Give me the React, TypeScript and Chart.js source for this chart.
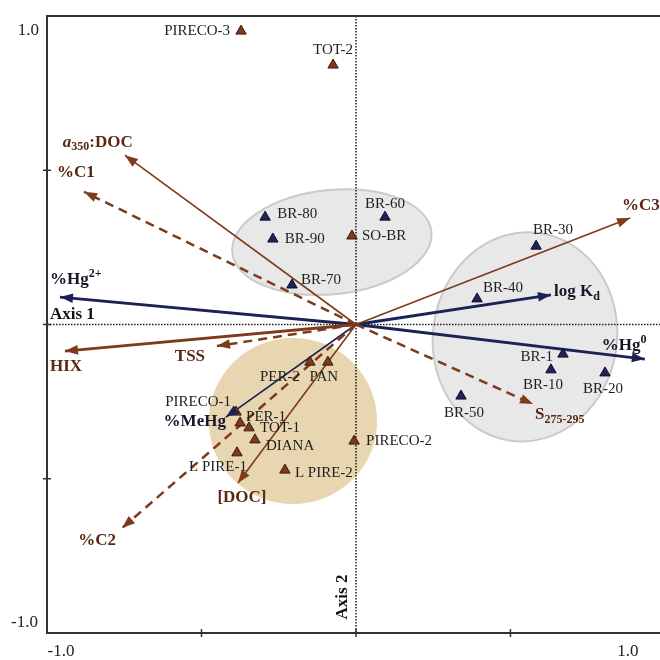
import React, { useEffect, useRef } from "react";
import { Chart, registerables } from "chart.js";

Chart.register(...registerables);

// ---------- data ----------
const siteNames = ["PIRECO-3", "TOT-2", "SO-BR", "PER-2", "PAN", "PIRECO-1", "PER-1", "TOT-1", "DIANA", "L PIRE-1", "L PIRE-2", "PIRECO-2"];
const siteAxis1 = [-0.372, -0.074, -0.013, -0.149, -0.091, -0.388, -0.375, -0.346, -0.327, -0.385, -0.23, -0.006];
const siteAxis2 = [0.951, 0.841, 0.287, -0.122, -0.122, -0.284, -0.319, -0.335, -0.374, -0.416, -0.472, -0.378];

const brNames = ["BR-80", "BR-90", "BR-70", "BR-60", "BR-30", "BR-40", "BR-1", "BR-10", "BR-20", "BR-50"];
const brAxis1 = [-0.294, -0.269, -0.207, 0.094, 0.583, 0.392, 0.67, 0.631, 0.806, 0.34];
const brAxis2 = [0.348, 0.277, 0.128, 0.348, 0.254, 0.083, -0.096, -0.147, -0.157, -0.232];

const varNames = ["a350:DOC", "%C1", "%C3", "HIX", "[DOC]", "TSS", "%C2", "S275-295", "%Hg2+", "log Kd", "%Hg0", "%MeHg"];
const varAxis1 = [-0.748, -0.88, 0.887, -0.942, -0.382, -0.45, -0.757, 0.573, -0.958, 0.631, 0.935, -0.421];
const varAxis2 = [0.549, 0.43, 0.345, -0.086, -0.514, -0.07, -0.66, -0.258, 0.089, 0.096, -0.112, -0.3];

const groupNames = ["BR upper", "BR lower", "Sites"];
const groupCenterAxis1 = [-0.078, 0.547, -0.204];
const groupCenterAxis2 = [0.267, -0.04, -0.313];
const groupRadiusAxis1 = [0.324, 0.298, 0.269];
const groupRadiusAxis2 = [0.169, 0.34, 0.266];

const tickValues = [-1, -0.5, 0, 0.5, 1];
const tickLabels = ["-1.0", "", "", "", "1.0"];

// ---------- styles ----------
const SERIF = '"Liberation Serif", "Times New Roman", serif';
const BROWN = "#7d3b1b";
const BROWN_TEXT = "#5b2812";
const NAVY = "#1c2157";
const NAVY_TEXT = "#15152a";

const siteLabelPos = [
  { dx: -11, dy: 0, align: "right" },
  { dx: 0, dy: -15, align: "center" },
  { dx: 10, dy: 0, align: "left" },
  { dx: -10, dy: 15, align: "right" },
  { dx: -4, dy: 15, align: "center" },
  { dx: -5, dy: -10, align: "right" },
  { dx: 6, dy: -6, align: "left" },
  { dx: 11, dy: 0, align: "left" },
  { dx: 11, dy: 6, align: "left" },
  { dx: -19, dy: 14, align: "center" },
  { dx: 10, dy: 3, align: "left" },
  { dx: 12, dy: 0, align: "left" },
];
const brLabelPos = [
  { dx: 12, dy: -3, align: "left" },
  { dx: 12, dy: 0, align: "left" },
  { dx: 9, dy: -5, align: "left" },
  { dx: 0, dy: -13, align: "center" },
  { dx: 17, dy: -16, align: "center" },
  { dx: 6, dy: -11, align: "left" },
  { dx: -10, dy: 3, align: "right" },
  { dx: -8, dy: 15, align: "center" },
  { dx: -2, dy: 16, align: "center" },
  { dx: 3, dy: 17, align: "center" },
];

type Run = { t: string; sub?: boolean; sup?: boolean; it?: boolean };
const varRuns: Run[][] = [
  [{ t: "a", it: true }, { t: "350", sub: true }, { t: ":DOC" }],
  [{ t: "%C1" }],
  [{ t: "%C3" }],
  [{ t: "HIX" }],
  [{ t: "[DOC]" }],
  [{ t: "TSS" }],
  [{ t: "%C2" }],
  [{ t: "S" }, { t: "275-295", sub: true }],
  [{ t: "%Hg" }, { t: "2+", sup: true }],
  [{ t: "log K" }, { t: "d", sub: true }],
  [{ t: "%Hg" }, { t: "0", sup: true }],
  [{ t: "%MeHg" }],
];
const varStyle = [
  { color: BROWN, text: BROWN_TEXT, width: 1.6, dash: [], dx: -62, dy: -13, align: "left" },
  { color: BROWN, text: BROWN_TEXT, width: 2.5, dash: [9, 6], dx: -27, dy: -19, align: "left" },
  { color: BROWN, text: BROWN_TEXT, width: 1.6, dash: [], dx: -8, dy: -12, align: "left" },
  { color: BROWN, text: BROWN_TEXT, width: 2.8, dash: [], dx: -15, dy: 16, align: "left" },
  { color: BROWN, text: BROWN_TEXT, width: 1.6, dash: [], dx: 4, dy: 15, align: "center" },
  { color: BROWN, text: BROWN_TEXT, width: 2.5, dash: [9, 6], dx: -27, dy: 11, align: "center" },
  { color: BROWN, text: BROWN_TEXT, width: 2.5, dash: [9, 6], dx: -25, dy: 12, align: "center" },
  { color: BROWN, text: BROWN_TEXT, width: 2.5, dash: [9, 6], dx: 2, dy: 11, align: "left" },
  { color: NAVY, text: NAVY_TEXT, width: 2.8, dash: [], dx: -10, dy: -17, align: "left" },
  { color: NAVY, text: NAVY_TEXT, width: 2.8, dash: [], dx: 3, dy: -3, align: "left" },
  { color: NAVY, text: NAVY_TEXT, width: 2.8, dash: [], dx: -43, dy: -13, align: "left" },
  { color: NAVY, text: NAVY_TEXT, width: 1.6, dash: [], dx: 0, dy: 5, align: "right" },
];
const groupStyle = [
  { fill: "#e8e8e8", stroke: "#cacaca", angle: -6 },
  { fill: "#e8e8e8", stroke: "#cacaca", angle: 8 },
  { fill: "#e8d6b0", stroke: "#e8d6b0", angle: 0 },
];

function runFont(r: Run, size: number) {
  const s = r.sub || r.sup ? Math.round(size * 0.7) : size;
  return `${r.it ? "italic " : ""}bold ${s}px ${SERIF}`;
}

function drawRuns(ctx: CanvasRenderingContext2D, runs: Run[], x: number, y: number, align: string, size: number, color: string) {
  let total = 0;
  for (const r of runs) {
    ctx.font = runFont(r, size);
    total += ctx.measureText(r.t).width;
  }
  let cx = align === "left" ? x : align === "right" ? x - total : x - total / 2;
  ctx.fillStyle = color;
  ctx.textAlign = "left";
  ctx.textBaseline = "middle";
  for (const r of runs) {
    ctx.font = runFont(r, size);
    const off = r.sub ? size * 0.3 : r.sup ? -size * 0.35 : 0;
    ctx.fillText(r.t, cx, y + off);
    cx += ctx.measureText(r.t).width;
  }
}

const biplotPlugin = {
  id: "biplot",
  beforeDatasetsDraw(chart: any) {
    const { ctx, chartArea: a, scales } = chart;
    const xs = scales.x, ys = scales.y;
    ctx.save();
    // group ellipses
    for (let i = 0; i < groupNames.length; i++) {
      const cx = xs.getPixelForValue(groupCenterAxis1[i]);
      const cy = ys.getPixelForValue(groupCenterAxis2[i]);
      const rx = Math.abs(xs.getPixelForValue(groupCenterAxis1[i] + groupRadiusAxis1[i]) - cx);
      const ry = Math.abs(ys.getPixelForValue(groupCenterAxis2[i] + groupRadiusAxis2[i]) - cy);
      ctx.beginPath();
      ctx.ellipse(cx, cy, rx, ry, (groupStyle[i].angle * Math.PI) / 180, 0, Math.PI * 2);
      ctx.fillStyle = groupStyle[i].fill;
      ctx.fill();
      ctx.lineWidth = 2;
      ctx.strokeStyle = groupStyle[i].stroke;
      ctx.stroke();
    }
    // dotted zero lines
    const x0 = xs.getPixelForValue(0), y0 = ys.getPixelForValue(0);
    ctx.strokeStyle = "#1a1a1a";
    ctx.lineWidth = 1.5;
    ctx.setLineDash([1.5, 1.5]);
    ctx.beginPath();
    ctx.moveTo(x0, a.top);
    ctx.lineTo(x0, a.bottom);
    ctx.moveTo(a.left, y0);
    ctx.lineTo(a.right, y0);
    ctx.stroke();
    ctx.setLineDash([]);
    // frame
    ctx.strokeStyle = "#333";
    ctx.lineWidth = 2;
    ctx.beginPath();
    ctx.moveTo(a.right, a.top);
    ctx.lineTo(a.left, a.top);
    ctx.lineTo(a.left, a.bottom);
    ctx.lineTo(a.right, a.bottom);
    ctx.stroke();
    // ticks
    ctx.lineWidth = 1.5;
    ctx.beginPath();
    for (const v of tickValues) {
      if (v === -1 || v === 1) continue;
      const px = xs.getPixelForValue(v);
      ctx.moveTo(px, a.bottom - 4);
      ctx.lineTo(px, a.bottom + 4);
      const py = ys.getPixelForValue(v);
      ctx.moveTo(a.left - 4, py);
      ctx.lineTo(a.left + 4, py);
    }
    ctx.stroke();
    // tick labels
    ctx.font = `17px ${SERIF}`;
    ctx.fillStyle = "#222";
    ctx.textBaseline = "middle";
    ctx.textAlign = "center";
    ctx.fillText(tickLabels[0], xs.getPixelForValue(tickValues[0]) + 14, a.bottom + 19);
    ctx.fillText(tickLabels[4], xs.getPixelForValue(tickValues[4]) - 37, a.bottom + 19);
    ctx.textAlign = "right";
    ctx.fillText(tickLabels[4], a.left - 8, ys.getPixelForValue(tickValues[4]) + 15);
    ctx.fillText(tickLabels[0], a.left - 9, ys.getPixelForValue(tickValues[0]) - 10);
    // axis names
    ctx.font = `bold 17px ${SERIF}`;
    ctx.fillStyle = "#111";
    ctx.textAlign = "left";
    ctx.fillText("Axis 1", a.left + 3, y0 - 10);
    ctx.save();
    ctx.translate(x0 - 13, a.bottom - 36);
    ctx.rotate(-Math.PI / 2);
    ctx.textAlign = "center";
    ctx.fillText("Axis 2", 0, 0);
    ctx.restore();
    ctx.restore();
  },
  afterDatasetsDraw(chart: any) {
    const { ctx, scales } = chart;
    const xs = scales.x, ys = scales.y;
    const x0 = xs.getPixelForValue(0), y0 = ys.getPixelForValue(0);
    ctx.save();
    // arrowheads + variable labels
    for (let i = 0; i < varNames.length; i++) {
      const tx = xs.getPixelForValue(varAxis1[i]);
      const ty = ys.getPixelForValue(varAxis2[i]);
      const ang = Math.atan2(ty - y0, tx - x0);
      const L = 13, W = 4.8;
      ctx.beginPath();
      ctx.moveTo(tx, ty);
      ctx.lineTo(tx - L * Math.cos(ang) + W * Math.sin(ang), ty - L * Math.sin(ang) - W * Math.cos(ang));
      ctx.lineTo(tx - L * Math.cos(ang) - W * Math.sin(ang), ty - L * Math.sin(ang) + W * Math.cos(ang));
      ctx.closePath();
      ctx.fillStyle = varStyle[i].color;
      ctx.fill();
      const st = varStyle[i];
      drawRuns(ctx, varRuns[i], tx + st.dx, ty + st.dy, st.align, 17, st.text);
    }
    // point labels
    ctx.font = `15px ${SERIF}`;
    ctx.fillStyle = "#1e1e1e";
    ctx.textBaseline = "middle";
    for (let i = 0; i < siteNames.length; i++) {
      const p = siteLabelPos[i];
      ctx.textAlign = p.align as CanvasTextAlign;
      ctx.fillText(siteNames[i], xs.getPixelForValue(siteAxis1[i]) + p.dx, ys.getPixelForValue(siteAxis2[i]) + p.dy);
    }
    for (let i = 0; i < brNames.length; i++) {
      const p = brLabelPos[i];
      ctx.textAlign = p.align as CanvasTextAlign;
      ctx.fillText(brNames[i], xs.getPixelForValue(brAxis1[i]) + p.dx, ys.getPixelForValue(brAxis2[i]) + p.dy);
    }
    ctx.restore();
  },
};

export default function App() {
  const ref = useRef<HTMLCanvasElement>(null);
  useEffect(() => {
    if (!ref.current) return;
    const arrowSets = varNames.map((n, i) => ({
      label: n,
      data: [{ x: 0, y: 0 }, { x: varAxis1[i], y: varAxis2[i] }],
      showLine: true,
      borderColor: varStyle[i].color,
      borderWidth: varStyle[i].width,
      borderDash: varStyle[i].dash,
      pointRadius: 0,
      fill: false,
    }));
    const chart = new Chart(ref.current, {
      type: "scatter",
      data: {
        datasets: [
          {
            label: "Sites",
            data: siteNames.map((_, i) => ({ x: siteAxis1[i], y: siteAxis2[i] })),
            pointStyle: "triangle",
            pointRadius: 6,
            backgroundColor: "#7e3a1a",
            borderColor: "#3d1a0a",
            borderWidth: 1,
          },
          {
            label: "BR",
            data: brNames.map((_, i) => ({ x: brAxis1[i], y: brAxis2[i] })),
            pointStyle: "triangle",
            pointRadius: 6,
            backgroundColor: "#1e2458",
            borderColor: "#0b0f2a",
            borderWidth: 1,
          },
          ...arrowSets,
        ] as any,
      },
      options: {
        animation: false,
        responsive: false,
        devicePixelRatio: 1,
        layout: { autoPadding: false, padding: { left: 47, top: 16, right: 0, bottom: 27 } },
        scales: {
          x: { type: "linear", min: -1, max: 0.984, display: false },
          y: { type: "linear", min: -1, max: 1, display: false },
        },
        plugins: { legend: { display: false }, tooltip: { enabled: false } },
      },
      plugins: [biplotPlugin],
    });
    return () => chart.destroy();
  }, []);
  return (
    <div style={{ position: "fixed", left: 0, top: 0, width: 660, height: 660, background: "#fff" }}>
      <canvas ref={ref} width={660} height={660} />
    </div>
  );
}
